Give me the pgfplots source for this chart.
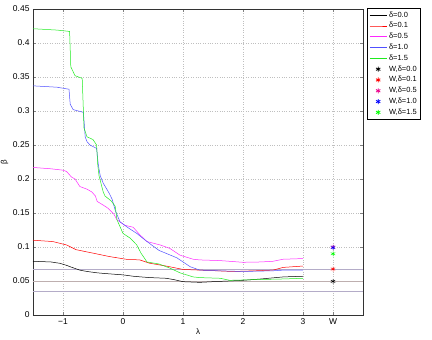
\documentclass[border=0pt]{standalone}
\usepackage{fontspec}
\setmainfont{Liberation Sans}
\usepackage{pgfplots}
\pgfplotsset{compat=1.18}
\definecolor{refline}{RGB}{180,172,200}
\definecolor{refline2}{RGB}{190,175,175}
\definecolor{lblue}{RGB}{80,80,255}
\definecolor{lgreen}{RGB}{30,235,30}
\definecolor{lmag}{RGB}{255,40,255}

\begin{document}
\begin{tikzpicture}
\begin{axis}[
  width=330bp, height=306bp, scale only axis,
  xmin=-1.5, xmax=4, ymin=0, ymax=0.45,
  xtick={-1,0,1,2,3,3.5},
  xticklabels={−1,0,1,2,3,W},
  ytick={0,0.05,0.1,0.15,0.2,0.25,0.3,0.35,0.4,0.45},
  yticklabels={0,0.05,0.1,0.15,0.2,0.25,0.3,0.35,0.4,0.45},
  tick label style={font=\fontsize{8.5}{10}\selectfont},
  /pgf/number format/assume math mode=true,
  tick align=inside, major tick length=3bp,
  grid=major, major grid style={dotted, gray!50},
  axis line style={black!80, line width=0.7pt},
  xlabel={λ}, ylabel={β},
  label style={font=\fontsize{8}{9}\selectfont},
  xlabel style={yshift=3bp},
  ylabel style={yshift=-2bp},
  legend cell align=left,
  legend style={at={(1,1)}, anchor=north west, xshift=4bp, yshift=1bp,
    font=\fontsize{7.5}{8.5}\selectfont, draw=black, line width=0.5pt,
    row sep=-0.1pt, inner xsep=2bp, inner ysep=1.5bp},
  legend image code/.code={\draw[mark repeat=2,mark phase=2,line width=0.8pt,#1] plot coordinates {(0bp,0bp) (8.5bp,0bp) (17bp,0bp)};},
  every axis plot/.append style={line width=0.5pt},
]
% reference levels
\addplot[refline, line width=0.4pt, forget plot] coordinates {(-1.5,0.0676) (4,0.0676)};
\addplot[refline2, line width=0.4pt, forget plot] coordinates {(-1.5,0.0495) (4,0.0495)};
\addplot[refline, line width=0.4pt, forget plot] coordinates {(-1.5,0.035) (4,0.035)};

\addplot[color=black] coordinates {(-1.5,0.079) (-1.2,0.078) (-1.05,0.076) (-0.94,0.073) (-0.85,0.070) (-0.72,0.066) (-0.6,0.064) (-0.43,0.062) (-0.3,0.061) (-0.15,0.060) (0,0.059) (0.17,0.057) (0.3,0.056) (0.45,0.055) (0.72,0.054) (0.85,0.052) (1,0.049) (1.28,0.048) (1.5,0.049) (2,0.051) (2.3,0.053) (2.67,0.056) (3,0.057)};
\addlegendentry{δ=0.0}
\addplot[color=red] coordinates {(-1.5,0.110) (-1.17,0.108) (-0.94,0.103) (-0.78,0.096) (-0.5,0.091) (-0.23,0.086) (0.05,0.082) (0.28,0.081) (0.45,0.076) (0.72,0.072) (1,0.067) (1.28,0.066) (1.83,0.064) (2.2,0.065) (2.5,0.066) (2.67,0.070) (3,0.072)};
\addlegendentry{δ=0.1}
\addplot[color=lmag] coordinates {(-1.5,0.217) (-1.2,0.215) (-1,0.213) (-0.94,0.211) (-0.86,0.203) (-0.8,0.2) (-0.72,0.189) (-0.6,0.185) (-0.52,0.181) (-0.46,0.175) (-0.43,0.167) (-0.3,0.16) (-0.25,0.157) (-0.15,0.148) (-0.1,0.14) (0.03,0.132) (0.17,0.129) (0.28,0.118) (0.4,0.108) (0.62,0.103) (0.78,0.098) (0.95,0.088) (1.17,0.082) (1.28,0.081) (1.62,0.080) (2,0.0775) (2.3,0.078) (2.5,0.079) (2.67,0.082) (3,0.083)};
\addlegendentry{δ=0.5}
\addplot[color=lblue] coordinates {(-1.5,0.337) (-1.1,0.335) (-0.9,0.332) (-0.88,0.31) (-0.83,0.302) (-0.66,0.298) (-0.63,0.262) (-0.6,0.255) (-0.55,0.25) (-0.44,0.245) (-0.41,0.22) (-0.38,0.205) (-0.33,0.194) (-0.23,0.179) (-0.18,0.17) (-0.13,0.154) (-0.05,0.137) (0.09,0.128) (0.23,0.12) (0.3,0.115) (0.4,0.108) (0.6,0.095) (0.9,0.084) (1.12,0.071) (1.28,0.066) (1.6,0.065) (2,0.064) (2.5,0.065) (2.67,0.066) (3,0.066)};
\addlegendentry{δ=1.0}
\addplot[color=lgreen] coordinates {(-1.5,0.421) (-1.1,0.419) (-0.89,0.417) (-0.87,0.365) (-0.8,0.352) (-0.68,0.348) (-0.66,0.30) (-0.65,0.275) (-0.6,0.262) (-0.5,0.258) (-0.44,0.25) (-0.42,0.22) (-0.4,0.205) (-0.33,0.181) (-0.3,0.175) (-0.2,0.168) (-0.13,0.16) (-0.1,0.14) (-0.05,0.13) (0,0.12) (0.12,0.113) (0.23,0.103) (0.3,0.091) (0.4,0.078) (0.6,0.075) (0.78,0.069) (0.95,0.062) (1.17,0.056) (1.28,0.055) (1.62,0.054) (1.78,0.051) (2.2,0.052) (2.67,0.053) (3,0.054)};
\addlegendentry{δ=1.5}

\addplot[color=black, only marks, mark=asterisk, mark size=2.5bp] coordinates {(3.5,0.0495)};
\addlegendentry{W,δ=0.0}
\addplot[color=red, only marks, mark=asterisk, mark size=2.5bp] coordinates {(3.5,0.0676)};
\addlegendentry{W,δ=0.1}
\addplot[color=magenta, only marks, mark=asterisk, mark size=2.5bp] coordinates {(3.5,0.100)};
\addlegendentry{W,δ=0.5}
\addplot[color=blue, only marks, mark=asterisk, mark size=2.5bp] coordinates {(3.5,0.099)};
\addlegendentry{W,δ=1.0}
\addplot[color=green, only marks, mark=asterisk, mark size=2.5bp] coordinates {(3.5,0.090)};
\addlegendentry{W,δ=1.5}
\end{axis}
\pgfresetboundingbox
\path (current axis.south west) ++(-33bp,-25bp) rectangle ++(432bp,340bp);
\end{tikzpicture}
\end{document}
